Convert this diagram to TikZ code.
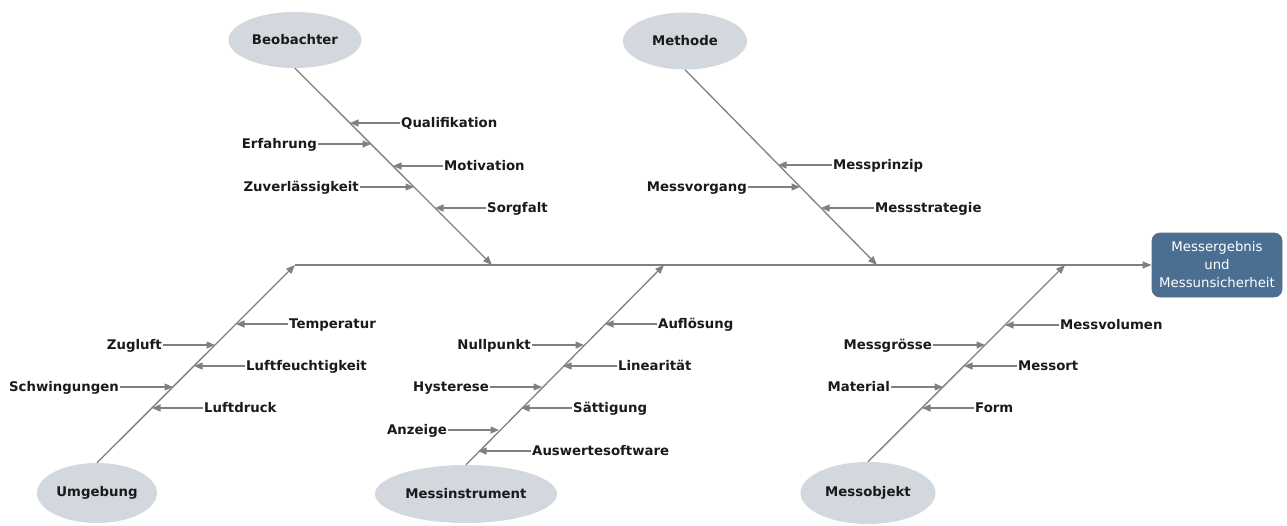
\documentclass[tikz,border=0pt]{standalone}
\usepackage{fontspec}
\setmainfont{DejaVu Sans}
\usetikzlibrary{arrows.meta,calc,shapes.geometric}
\definecolor{bonec}{HTML}{808080}
\definecolor{ellfill}{HTML}{D3D8DE}
\definecolor{boxfill}{HTML}{4A6F93}
\definecolor{boxline}{HTML}{5E6E7E}
\definecolor{txt}{HTML}{1A1A1A}
\begin{document}
\begin{tikzpicture}[x=1pt,y=-1pt,
  cat/.style={ellipse, fill=ellfill, inner sep=0pt, text=txt, font=\fontsize{13.3}{15}\selectfont\bfseries},
  lab/.style={inner sep=1pt, text=txt, font=\fontsize{13.3}{15}\selectfont\bfseries},
  labR/.style={lab, anchor=base west, yshift=-4.8pt},
  labL/.style={lab, anchor=base east, yshift=-4.8pt},
  resbox/.style={rectangle, rounded corners=8pt, fill=boxfill, draw=boxline, line width=0.8pt, text=white, align=center, font=\fontsize{13.3}{18}\selectfont},
  bonel/.style={draw=bonec, line width=1.3pt, -{Triangle[length=9pt,width=7pt]}},
  sub/.style={draw=bonec, line width=1.3pt, -{Triangle[length=8.5pt,width=7pt]}}]
\useasboundingbox (0,0) rectangle (1287,525);

% categories
\node[cat, minimum width=133, minimum height=56] (beo) at (295,40) {Beobachter};
\node[cat, minimum width=124, minimum height=57] (met) at (685,41) {Methode};
\node[cat, minimum width=120, minimum height=60] (umg) at (97,493) {Umgebung};
\node[cat, minimum width=182, minimum height=58] (ins) at (466,494) {Messinstrument};
\node[cat, minimum width=135, minimum height=62] (obj) at (868,493) {Messobjekt};
\node[resbox, minimum width=130, minimum height=64] (res) at (1217,265) {Messergebnis\\und\\Messunsicherheit};

% spine coordinates
\coordinate (s0) at (295,265);
\coordinate (sB) at (492,265);
\coordinate (sM) at (877,265);
\coordinate (sI) at (664,265);
\coordinate (sO) at (1065,265);

\draw[bonel] (s0) -- (res.west);
\draw[bonel] (beo.south) -- (sB);
\draw[bonel] (met.south) -- (sM);
\draw[bonel] (umg.north) -- (s0);
\draw[bonel] (ins.north) -- (sI);
\draw[bonel] (obj.north) -- (sO);

% Beobachter
\coordinate (tB1) at (350,123); \node[labR] (qual) at (400,123) {Qualifikation}; \draw[sub] (qual.west |- tB1) -- (tB1);
\coordinate (tB2) at (371,144); \node[labL] (erf) at (318,144) {Erfahrung}; \draw[sub] (erf.east |- tB2) -- (tB2);
\coordinate (tB3) at (393,166); \node[labR] (mot) at (443,166) {Motivation}; \draw[sub] (mot.west |- tB3) -- (tB3);
\coordinate (tB4) at (414,187); \node[labL] (zuv) at (360,187) {Zuverlässigkeit}; \draw[sub] (zuv.east |- tB4) -- (tB4);
\coordinate (tB5) at (435,208); \node[labR] (sorg) at (486,208) {Sorgfalt}; \draw[sub] (sorg.west |- tB5) -- (tB5);

% Methode
\coordinate (tM1) at (778,165); \node[labR] (mpr) at (832,165) {Messprinzip}; \draw[sub] (mpr.west |- tM1) -- (tM1);
\coordinate (tM2) at (800,187); \node[labL] (mvo) at (748,187) {Messvorgang}; \draw[sub] (mvo.east |- tM2) -- (tM2);
\coordinate (tM3) at (821,208); \node[labR] (mst) at (874,208) {Messstrategie}; \draw[sub] (mst.west |- tM3) -- (tM3);

% Umgebung
\coordinate (tU1) at (236,324); \node[labR] (tem) at (288,324) {Temperatur}; \draw[sub] (tem.west |- tU1) -- (tU1);
\coordinate (tU2) at (215,345); \node[labL] (zug) at (163,345) {Zugluft}; \draw[sub] (zug.east |- tU2) -- (tU2);
\coordinate (tU3) at (194,366); \node[labR] (luf) at (245,366) {Luftfeuchtigkeit}; \draw[sub] (luf.west |- tU3) -- (tU3);
\coordinate (tU4) at (173,387); \node[labL] (sch) at (120,387) {Schwingungen}; \draw[sub] (sch.east |- tU4) -- (tU4);
\coordinate (tU5) at (152,408); \node[labR] (lud) at (203,408) {Luftdruck}; \draw[sub] (lud.west |- tU5) -- (tU5);

% Messinstrument
\coordinate (tI1) at (605,324); \node[labR] (auf) at (657,324) {Auflösung}; \draw[sub] (auf.west |- tI1) -- (tI1);
\coordinate (tI2) at (584,345); \node[labL] (nul) at (532,345) {Nullpunkt}; \draw[sub] (nul.east |- tI2) -- (tI2);
\coordinate (tI3) at (563,366); \node[labR] (lin) at (617,366) {Linearität}; \draw[sub] (lin.west |- tI3) -- (tI3);
\coordinate (tI4) at (542,387); \node[labL] (hys) at (490,387) {Hysterese}; \draw[sub] (hys.east |- tI4) -- (tI4);
\coordinate (tI5) at (521,408); \node[labR] (sat) at (572,408) {Sättigung}; \draw[sub] (sat.west |- tI5) -- (tI5);
\coordinate (tI6) at (499,430); \node[labL] (anz) at (448,430) {Anzeige}; \draw[sub] (anz.east |- tI6) -- (tI6);
\coordinate (tI7) at (478,451); \node[labR] (aus) at (531,451) {Auswertesoftware}; \draw[sub] (aus.west |- tI7) -- (tI7);

% Messobjekt
\coordinate (tO1) at (1005,325); \node[labR] (mvol) at (1059,325) {Messvolumen}; \draw[sub] (mvol.west |- tO1) -- (tO1);
\coordinate (tO2) at (985,345); \node[labL] (mgr) at (933,345) {Messgrösse}; \draw[sub] (mgr.east |- tO2) -- (tO2);
\coordinate (tO3) at (964,366); \node[labR] (mor) at (1017,366) {Messort}; \draw[sub] (mor.west |- tO3) -- (tO3);
\coordinate (tO4) at (943,387); \node[labL] (mat) at (891,387) {Material}; \draw[sub] (mat.east |- tO4) -- (tO4);
\coordinate (tO5) at (922,408); \node[labR] (frm) at (974,408) {Form}; \draw[sub] (frm.west |- tO5) -- (tO5);
\end{tikzpicture}
\end{document}
